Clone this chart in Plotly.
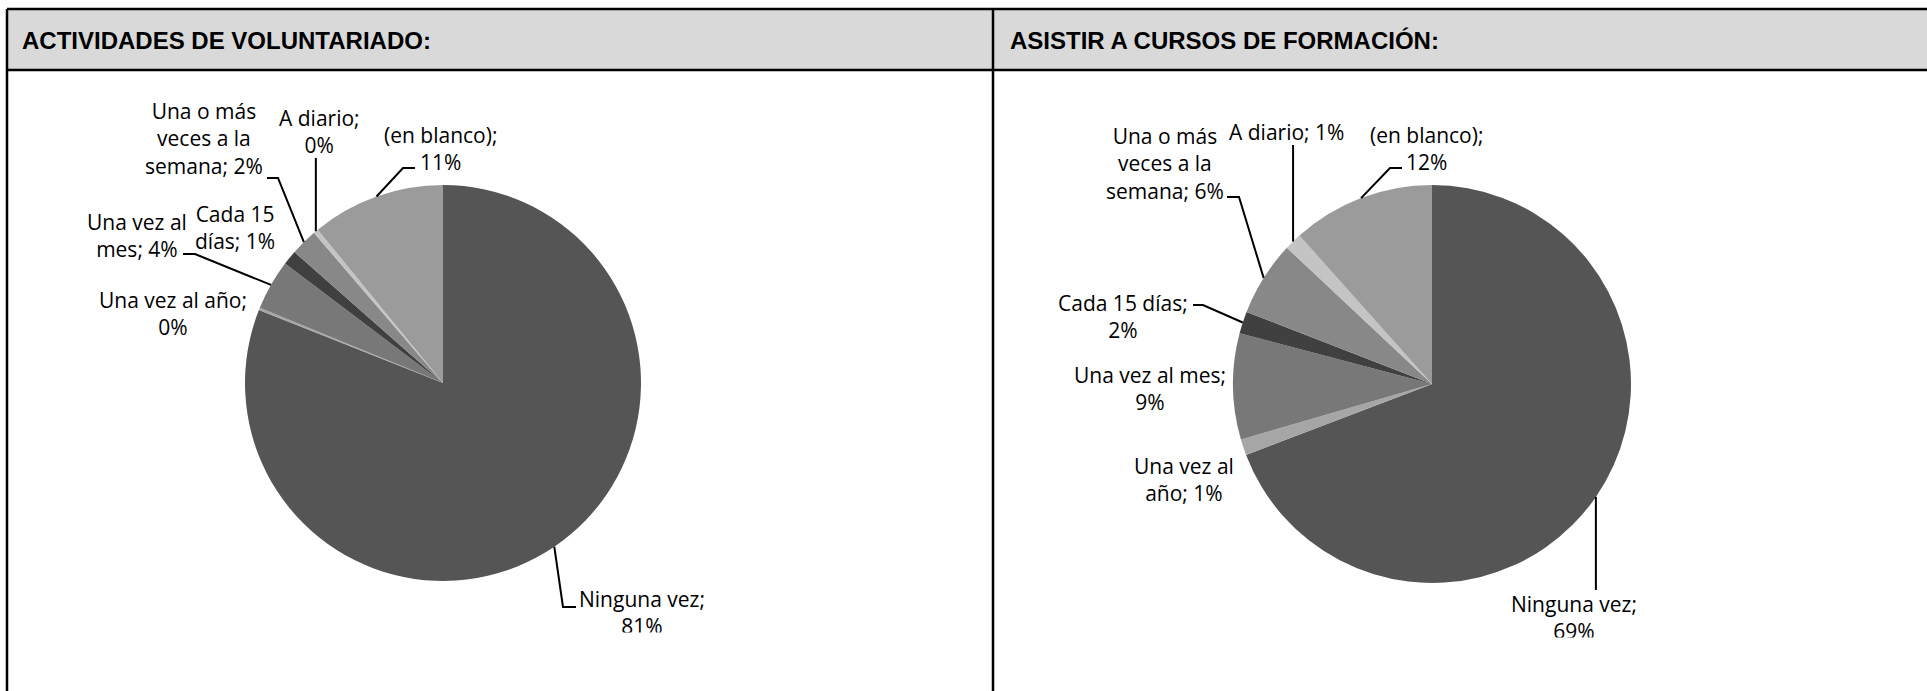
import math
import plotly.graph_objects as go

# --- data ---------------------------------------------------------------
categories = ["Ninguna vez", "Una vez al año", "Una vez al mes", "Cada 15 días",
              "Una o más veces a la semana", "A diario", "(en blanco)"]
voluntariado = [81.0, 0.2, 4.1, 1.2, 2.2, 0.4, 10.9]
cursos = [69.2, 1.3, 8.6, 1.8, 6.1, 1.4, 11.6]
titles = ["ACTIVIDADES DE VOLUNTARIADO:", "ASISTIR A CURSOS DE FORMACIÓN:"]

slice_colors = ["#555555", "#a6a6a6", "#787878", "#404040", "#888888", "#c4c4c4", "#9b9b9b"]

W, H = 1927, 691


def px(x):
    return x / W


def py(y):
    return 1 - y / H


# pie placement (pixels) and label layout, in category order
pies = [dict(cx=443, cy=383, r=198), dict(cx=1432, cy=384, r=199)]
title_x = [20, 1008]

labels_1 = [
    dict(lines=[2, 1], x=642, y=612, clip=632, lead=("e", 563, 607, 576)),
    dict(lines=[4, 1], x=173, y=314, lead=None),
    dict(lines=[3, 2], x=137, y=235, lead=("e", 195, 254, 183)),
    dict(lines=[2, 2], x=235, y=227, lead=None),
    dict(lines=[3, 3, 2], x=204, y=138, lead=("e", 278, 178, 267)),
    dict(lines=[2, 1], x=319, y=131, lead=("v", 158)),
    dict(lines=[2, 1], x=440, y=148, lead=("e", 403, 168, 415)),
]
labels_2 = [
    dict(lines=[2, 1], x=1574, y=617, clip=637, lead=("v", 590)),
    dict(lines=[3, 2], x=1184, y=479, lead=None),
    dict(lines=[4, 1], x=1150, y=388, lead=None),
    dict(lines=[3, 1], x=1123, y=316, lead=("e", 1203, 305, 1193)),
    dict(lines=[3, 3, 2], x=1165, y=163, lead=("e", 1239, 197, 1227)),
    dict(lines=[3], x=1286, y=132, lead=("v", 145)),
    dict(lines=[2, 1], x=1426, y=149, lead=("e", 1390, 168, 1402)),
]


def wrap(text, counts):
    words = text.split(" ")
    out, i = [], 0
    for n in counts:
        out.append(" ".join(words[i:i + n]))
        i += n
    return "<br>".join(out)


fig = go.Figure()
annotations = []
masks = []
shapes = []

# table header band and borders
shapes.append(dict(type="rect", xref="paper", yref="paper", x0=px(7), x1=px(W), y0=py(70), y1=py(9),
                   fillcolor="#d9d9d9", line_width=0, layer="below"))
for x0, y0, x1, y1 in [(7, 9, W, 9), (7, 70, W, 70), (7, 9, 7, H), (993, 9, 993, H)]:
    shapes.append(dict(type="line", xref="paper", yref="paper", x0=px(x0), y0=py(y0), x1=px(x1), y1=py(y1),
                       line=dict(color="black", width=2.5)))

for k, (values, lay) in enumerate([(voluntariado, labels_1), (cursos, labels_2)]):
    p = pies[k]
    fig.add_trace(go.Pie(
        labels=categories, values=values, sort=False, direction="clockwise", rotation=0,
        marker=dict(colors=slice_colors, line=dict(width=0)), textinfo="none", showlegend=False,
        domain=dict(x=[px(p["cx"] - p["r"]), px(p["cx"] + p["r"])],
                    y=[py(p["cy"] + p["r"]), py(p["cy"] - p["r"])]),
    ))
    annotations.append(dict(text="<b>" + titles[k] + "</b>", x=px(title_x[k]), y=py(40), xref="paper", yref="paper",
                            xanchor="left", yanchor="middle", showarrow=False,
                            font=dict(family="Liberation Sans, Arial", size=24, color="black")))

    total = sum(values)
    cum = 0
    for cat, v, spec in zip(categories, values, lay):
        mid = (cum + v / 2) / total
        cum += v
        ang = 2 * math.pi * mid
        ax = p["cx"] + p["r"] * math.sin(ang)
        ay = p["cy"] - p["r"] * math.cos(ang)
        text = wrap(f"{cat}; {round(v / total * 100)}%", spec["lines"])
        annotations.append(dict(text=text, x=px(spec["x"]), y=py(spec["y"]), xref="paper", yref="paper",
                                xanchor="center", yanchor="middle", showarrow=False,
                                font=dict(family="Open Sans", size=21, color="black")))
        if "clip" in spec:
            # the original picture is cut through this label: cover the lower part
            masks.append(dict(text="\u00a0", x=px(spec["x"]), y=py(spec["clip"]), xref="paper", yref="paper",
                              xanchor="center", yanchor="top", showarrow=False, width=90, height=24,
                              bgcolor="white", borderpad=0))

        lead = spec["lead"]
        if lead is None:
            continue
        if lead[0] == "v":
            path = f"M {px(ax)} {py(ay)} L {px(ax)} {py(lead[1])}"
        else:
            path = f"M {px(ax)} {py(ay)} L {px(lead[1])} {py(lead[2])} L {px(lead[3])} {py(lead[2])}"
        shapes.append(dict(type="path", xref="paper", yref="paper", path=path,
                           line=dict(color="black", width=2)))

fig.update_layout(width=W, height=H, margin=dict(l=0, r=0, t=0, b=0),
                  paper_bgcolor="white", plot_bgcolor="white",
                  annotations=annotations + masks, shapes=shapes)

fig.write_html("out.html", config=dict(displayModeBar=False),
               post_script="document.body.style.margin='0';")
